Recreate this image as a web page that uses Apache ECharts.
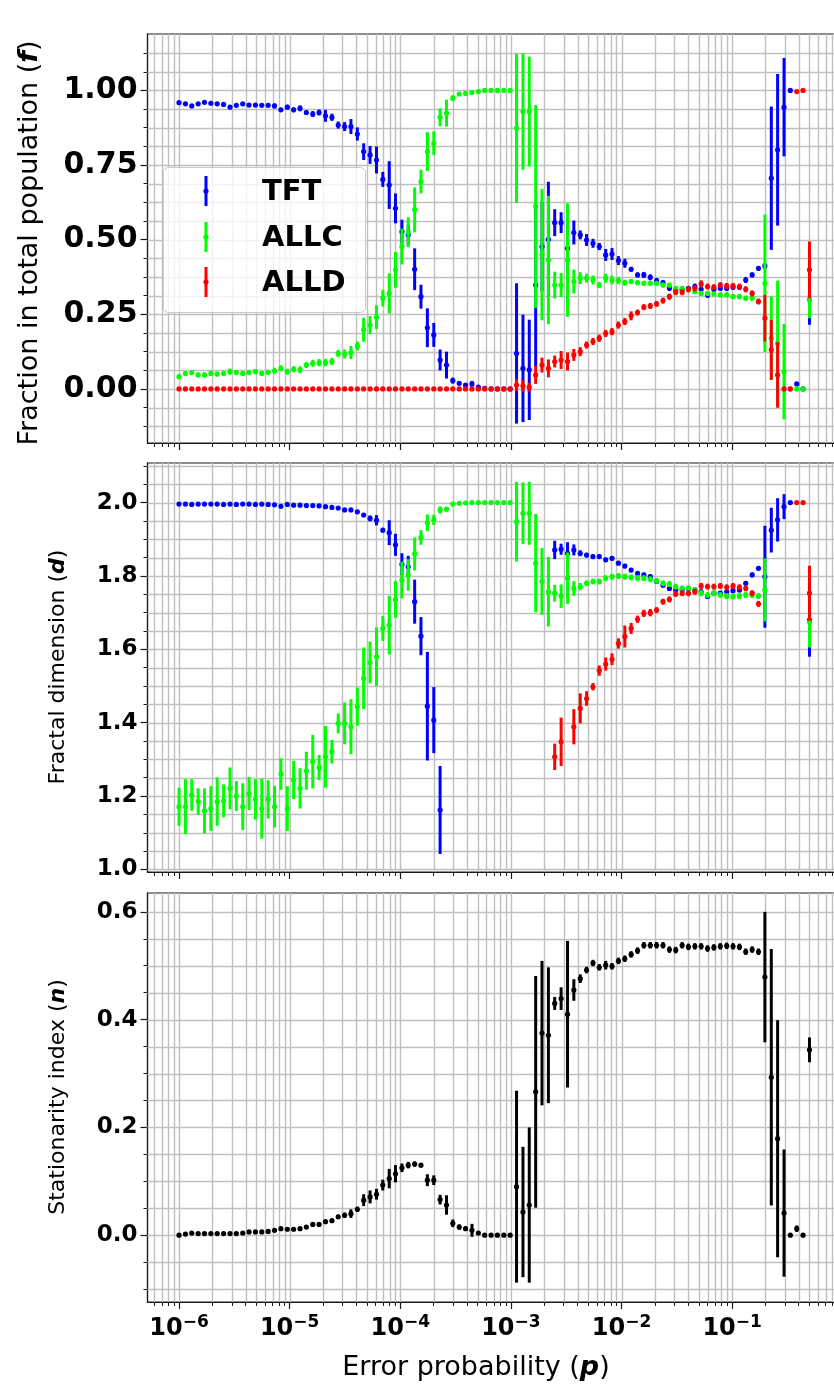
<!DOCTYPE html>
<html>
<head>
<meta charset="utf-8">
<script src="https://cdn.jsdelivr.net/npm/echarts@6/dist/echarts.min.js"></script>
<style>
  html, body { margin: 0; padding: 0; background: #fff; overflow: hidden; }
  #chart { width: 842px; height: 1390px; }
</style>
</head>
<body>
<div id="chart"></div>
<script>
// log10 of the error probability p for each simulated point
const logP = [
  -6.000,-5.942,-5.885,-5.827,-5.770,-5.712,-5.655,-5.597,-5.539,-5.482,
  -5.424,-5.367,-5.309,-5.252,-5.194,-5.137,-5.079,-5.021,-4.964,-4.906,
  -4.849,-4.791,-4.734,-4.676,-4.618,-4.561,-4.503,-4.446,-4.388,-4.331,
  -4.273,-4.215,-4.158,-4.100,-4.043,-3.985,-3.928,-3.870,-3.813,-3.755,
  -3.697,-3.640,-3.582,-3.525,-3.467,-3.410,-3.352,-3.294,-3.237,-3.179,
  -3.122,-3.064,-3.007,-2.949,-2.891,-2.834,-2.776,-2.719,-2.661,-2.604,
  -2.546,-2.488,-2.431,-2.373,-2.316,-2.258,-2.201,-2.143,-2.086,-2.028,
  -1.970,-1.913,-1.855,-1.798,-1.740,-1.683,-1.625,-1.567,-1.510,-1.452,
  -1.395,-1.337,-1.280,-1.222,-1.165,-1.107,-1.049,-0.992,-0.934,-0.877,
  -0.819,-0.762,-0.704,-0.646,-0.589,-0.531,-0.474,-0.416,-0.359,-0.301
];

const strategyNames = ['TFT', 'ALLC', 'ALLD'];
const strategyColors = ['#0000ff', '#00ff00', '#ff0000'];
const xTickExps = [-6, -5, -4, -3, -2, -1];

// Fraction in total population (f)
const tftF = [
  0.959,0.955,0.948,0.955,0.960,0.957,0.955,0.953,0.944,0.950,
  0.955,0.951,0.951,0.950,0.950,0.948,0.935,0.944,0.935,0.940,
  0.926,0.921,0.926,0.915,0.910,0.884,0.879,0.879,0.854,0.795,
  0.784,0.767,0.702,0.683,0.605,0.527,0.516,0.401,0.309,0.205,
  0.181,0.097,0.080,0.028,0.019,0.013,0.017,0.006,0.002,0.000,
  0.000,0.000,0.000,0.119,0.069,0.064,0.348,0.477,0.501,0.557,
  0.557,0.471,0.524,0.516,0.499,0.488,0.477,0.449,0.452,0.430,
  0.421,0.401,0.382,0.382,0.374,0.363,0.356,0.337,0.332,0.332,
  0.337,0.343,0.334,0.315,0.334,0.337,0.337,0.341,0.341,0.365,
  0.382,0.404,0.412,0.706,0.801,0.944,1.000,0.017,0.000,0.300
];
const tftFErr = [
  0.004,0.004,0.005,0.004,0.004,0.004,0.004,0.004,0.006,0.004,
  0.004,0.004,0.005,0.004,0.004,0.008,0.006,0.008,0.008,0.010,
  0.008,0.010,0.010,0.020,0.012,0.012,0.015,0.025,0.022,0.028,
  0.030,0.045,0.025,0.080,0.050,0.040,0.035,0.070,0.040,0.065,
  0.040,0.035,0.045,0.010,0.006,0.005,0.010,0.004,0.002,0.000,
  0.000,0.000,0.000,0.235,0.180,0.168,0.274,0.150,0.193,0.045,
  0.035,0.100,0.040,0.015,0.020,0.015,0.012,0.020,0.020,0.015,
  0.015,0.008,0.008,0.010,0.010,0.008,0.008,0.008,0.008,0.008,
  0.008,0.010,0.008,0.010,0.008,0.008,0.008,0.008,0.008,0.010,
  0.008,0.008,0.010,0.240,0.254,0.165,0.000,0.005,0.000,0.085
];
const allcF = [
  0.041,0.052,0.055,0.047,0.047,0.052,0.050,0.052,0.058,0.055,
  0.052,0.055,0.058,0.052,0.056,0.061,0.069,0.058,0.066,0.064,
  0.080,0.086,0.088,0.088,0.092,0.119,0.117,0.122,0.144,0.198,
  0.214,0.240,0.304,0.320,0.399,0.477,0.525,0.600,0.695,0.795,
  0.823,0.910,0.924,0.974,0.988,0.990,0.993,0.996,1.000,1.000,
  1.000,1.000,1.000,0.873,0.929,0.929,0.611,0.450,0.432,0.348,
  0.348,0.432,0.360,0.371,0.371,0.365,0.348,0.371,0.365,0.363,
  0.356,0.360,0.356,0.354,0.354,0.354,0.348,0.348,0.337,0.337,
  0.332,0.326,0.320,0.320,0.318,0.315,0.315,0.309,0.309,0.304,
  0.304,0.293,0.354,0.170,0.153,0.058,0.000,0.000,0.000,0.300
];
const allcFErr = [
  0.008,0.008,0.008,0.008,0.008,0.008,0.008,0.008,0.010,0.008,
  0.008,0.008,0.008,0.008,0.008,0.010,0.010,0.010,0.010,0.012,
  0.010,0.012,0.012,0.012,0.012,0.012,0.015,0.022,0.015,0.040,
  0.030,0.040,0.028,0.067,0.060,0.060,0.050,0.075,0.040,0.065,
  0.040,0.030,0.045,0.010,0.006,0.004,0.004,0.004,0.000,0.000,
  0.000,0.000,0.000,0.250,0.195,0.184,0.340,0.220,0.215,0.045,
  0.040,0.190,0.040,0.020,0.015,0.015,0.010,0.015,0.015,0.012,
  0.010,0.008,0.008,0.008,0.008,0.008,0.008,0.008,0.008,0.008,
  0.008,0.008,0.008,0.008,0.008,0.008,0.008,0.008,0.008,0.008,
  0.008,0.008,0.230,0.140,0.210,0.160,0.000,0.000,0.000,0.063
];
const alldF = [
  0,0,0,0,0,0,0,0,0,0,
  0,0,0,0,0,0,0,0,0,0,
  0,0,0,0,0,0,0,0,0,0,
  0,0,0,0,0,0,0,0,0,0,
  0,0,0,0,0,0,0,0,0,0,
  0,0,0,0.013,0.010,0.006,0.047,0.080,0.069,0.092,
  0.097,0.092,0.114,0.125,0.147,0.159,0.170,0.186,0.192,0.214,
  0.226,0.245,0.256,0.274,0.278,0.285,0.296,0.309,0.324,0.324,
  0.334,0.337,0.352,0.343,0.341,0.348,0.345,0.345,0.343,0.334,
  0.320,0.293,0.237,0.131,0.047,0.000,0.000,0.996,1.000,0.399
];
const alldFErr = [
  0,0,0,0,0,0,0,0,0,0,
  0,0,0,0,0,0,0,0,0,0,
  0,0,0,0,0,0,0,0,0,0,
  0,0,0,0,0,0,0,0,0,0,
  0,0,0,0,0,0,0,0,0,0,
  0,0,0,0.020,0.020,0.015,0.030,0.025,0.030,0.020,
  0.030,0.030,0.020,0.015,0.012,0.012,0.012,0.012,0.012,0.012,
  0.012,0.015,0.010,0.010,0.010,0.010,0.010,0.010,0.010,0.010,
  0.010,0.010,0.012,0.010,0.010,0.010,0.010,0.010,0.010,0.010,
  0.010,0.010,0.078,0.100,0.110,0,0,0,0,0.095
];

// Fractal dimension (d)
const tftD = [
  1.996,1.996,1.995,1.996,1.996,1.996,1.996,1.995,1.996,1.995,
  1.996,1.996,1.995,1.996,1.995,1.994,1.990,1.995,1.993,1.993,
  1.992,1.992,1.991,1.989,1.987,1.985,1.980,1.980,1.975,1.966,
  1.957,1.952,1.925,1.918,1.885,1.832,1.825,1.730,1.636,1.445,
  1.407,1.162,null,null,null,null,null,null,null,null,
  null,null,null,null,null,null,null,null,null,1.871,
  1.873,1.862,1.871,1.862,1.857,1.853,1.853,1.844,1.848,1.835,
  1.827,1.816,1.807,1.803,1.798,1.785,1.775,1.766,1.762,1.762,
  1.766,1.762,1.757,1.744,1.753,1.753,1.757,1.760,1.762,1.780,
  1.803,1.821,1.798,1.925,1.953,1.989,2.000,null,null,1.680
];
const tftDErr = [
  0.002,0.002,0.002,0.002,0.002,0.002,0.002,0.002,0.002,0.002,
  0.002,0.002,0.002,0.002,0.002,0.002,0.002,0.002,0.002,0.002,
  0.002,0.002,0.002,0.003,0.003,0.003,0.004,0.004,0.005,0.005,
  0.008,0.014,0.006,0.034,0.030,0.030,0.030,0.060,0.052,0.148,
  0.090,0.120,0,0,0,0,0,0,0,0,
  0,0,0,0,0,0,0,0,0,0.025,
  0.015,0.030,0.015,0.008,0.006,0.006,0.006,0.006,0.006,0.006,
  0.006,0.006,0.006,0.006,0.006,0.006,0.006,0.006,0.006,0.006,
  0.006,0.006,0.006,0.006,0.006,0.006,0.006,0.006,0.006,0.006,
  0.006,0.006,0.139,0.061,0.059,0.034,0,0,0,0.100
];
const allcD = [
  1.171,1.171,1.203,1.185,1.160,1.166,1.185,1.187,1.221,1.200,
  1.171,1.207,1.191,1.166,1.191,1.171,1.260,1.166,1.244,1.221,
  1.269,1.294,1.278,1.307,1.321,1.398,1.398,1.389,1.444,1.521,
  1.564,1.580,1.657,1.666,1.736,1.789,1.803,1.860,1.905,1.945,
  1.953,1.980,1.982,1.996,1.998,1.999,2.000,2.000,2.000,2.000,
  2.000,2.000,2.000,1.948,1.971,1.971,1.835,1.785,1.757,1.753,
  1.745,1.794,1.766,1.771,1.780,1.785,1.785,1.794,1.798,1.800,
  1.798,1.796,1.794,1.794,1.791,1.787,1.780,1.778,1.771,1.766,
  1.766,1.762,1.753,1.748,1.753,1.748,1.745,1.744,1.745,1.748,
  1.748,1.745,1.762,null,null,null,null,null,null,1.675
];
const allcDErr = [
  0.052,0.075,0.043,0.036,0.061,0.061,0.066,0.045,0.057,0.041,
  0.064,0.045,0.055,0.082,0.052,0.057,0.043,0.061,0.052,0.055,
  0.052,0.073,0.034,0.084,0.032,0.027,0.057,0.075,0.052,0.084,
  0.057,0.080,0.034,0.080,0.050,0.050,0.043,0.045,0.020,0.023,
  0.014,0.010,0.006,0.003,0.002,0,0,0,0,0,
  0,0,0,0.109,0.084,0.086,0.134,0.091,0.095,0.023,
  0.032,0.070,0.020,0.010,0.008,0.008,0.008,0.008,0.008,0.008,
  0.008,0.008,0.008,0.008,0.008,0.008,0.008,0.008,0.008,0.008,
  0.008,0.008,0.008,0.008,0.008,0.008,0.008,0.008,0.008,0.008,
  0.008,0.008,0.086,0,0,0,0,0,0,0.070
];
const alldD = [
  null,null,null,null,null,null,null,null,null,null,
  null,null,null,null,null,null,null,null,null,null,
  null,null,null,null,null,null,null,null,null,null,
  null,null,null,null,null,null,null,null,null,null,
  null,null,null,null,null,null,null,null,null,null,
  null,null,null,null,null,null,null,null,null,1.307,
  1.348,null,1.389,1.439,1.466,1.498,1.542,1.560,1.573,1.616,
  1.635,1.657,1.682,1.698,1.700,1.707,1.730,1.736,1.751,1.753,
  1.753,1.757,1.773,1.771,1.771,1.773,1.769,1.773,1.769,1.766,
  1.753,1.724,null,null,null,null,null,2.000,2.000,1.753
];
const alldDErr = [
  0,0,0,0,0,0,0,0,0,0,
  0,0,0,0,0,0,0,0,0,0,
  0,0,0,0,0,0,0,0,0,0,
  0,0,0,0,0,0,0,0,0,0,
  0,0,0,0,0,0,0,0,0,0,
  0,0,0,0,0,0,0,0,0,0.036,
  0.066,0,0.048,0.041,0.020,0.010,0.014,0.018,0.016,0.014,
  0.030,0.015,0.010,0.010,0.010,0.008,0.008,0.008,0.008,0.008,
  0.008,0.008,0.008,0.008,0.008,0.008,0.008,0.008,0.008,0.008,
  0.008,0.008,0,0,0,0,0,0,0,0.075
];

// Stationarity index (n)
const statN = [
  0.000,0.002,0.004,0.003,0.003,0.003,0.003,0.003,0.003,0.003,
  0.004,0.006,0.006,0.006,0.007,0.009,0.012,0.011,0.011,0.012,
  0.015,0.020,0.020,0.025,0.027,0.034,0.037,0.040,0.048,0.065,
  0.071,0.076,0.093,0.105,0.114,0.125,0.130,0.132,0.130,0.102,
  0.102,0.066,0.056,0.022,0.015,0.012,0.009,0.004,0.000,0.000,
  0.000,0.000,0.000,0.090,0.043,0.056,0.266,0.375,0.371,0.430,
  0.439,0.410,0.455,0.476,0.492,0.505,0.497,0.501,0.499,0.509,
  0.513,0.521,0.528,0.538,0.538,0.538,0.538,0.530,0.529,0.538,
  0.535,0.536,0.536,0.532,0.534,0.536,0.537,0.536,0.535,0.526,
  0.530,0.526,0.479,0.293,0.179,0.041,0.000,0.012,0.000,0.344
];
const statNErr = [
  0.002,0.002,0.002,0.002,0.002,0.002,0.002,0.002,0.002,0.002,
  0.002,0.002,0.002,0.002,0.002,0.002,0.002,0.002,0.002,0.002,
  0.002,0.002,0.002,0.003,0.003,0.004,0.005,0.008,0.005,0.011,
  0.012,0.010,0.010,0.018,0.016,0.008,0.006,0.005,0.004,0.011,
  0.009,0.009,0.018,0.007,0.005,0.004,0.012,0.003,0,0,
  0,0,0,0.178,0.121,0.144,0.215,0.134,0.126,0.012,
  0.021,0.136,0.020,0.008,0.006,0.006,0.006,0.008,0.006,0.006,
  0.006,0.006,0.006,0.006,0.006,0.006,0.006,0.006,0.006,0.006,
  0.006,0.006,0.006,0.006,0.006,0.006,0.006,0.006,0.006,0.006,
  0.006,0.006,0.121,0.238,0.220,0.118,0,0.006,0,0.023
];

// y tick labels of each panel
const yTicksF = [0, 0.25, 0.5, 0.75, 1.0];
const yTicksD = [1.0, 1.2, 1.4, 1.6, 1.8, 2.0];
const yTicksN = [0, 0.2, 0.4, 0.6];

const FONT = "'DejaVu Sans', sans-serif";
const GRID_COLOR = '#bfbfbf';
const SPINE = '#1a1a1a';
const X_MIN = -6.285, X_MAX = -0.016;

const panels = [
  { top: 34,  yMin: -0.181, yMax: 1.189, step: 0.0625, gridFrom: -0.125, gridTo: 1.125,
    major: yTicksF, digits: 2, labelSize: 30 },
  { top: 463, yMin: 0.993,  yMax: 2.108, step: 0.05,   gridFrom: 1.0,    gridTo: 2.1,
    major: yTicksD, digits: 1, labelSize: 23 },
  { top: 893, yMin: -0.124, yMax: 0.635, step: 0.05,   gridFrom: -0.1,   gridTo: 0.6,
    major: yTicksN, digits: 1, labelSize: 23 }
];
const PANEL_H = 409;

// log-axis grid positions: decades and 2..9 subdivisions
const xGridAll = [];
for (let n = -7; n <= 0; n++) {
  for (let m = 1; m <= 9; m++) {
    const v = n + Math.log10(m);
    if (v > X_MIN && v < X_MAX) xGridAll.push(+v.toFixed(5));
  }
}
const xMinor = xGridAll.filter(v => !xTickExps.some(t => Math.abs(t - v) < 1e-6));

function linearStops(from, to, step) {
  const out = [];
  for (let v = from; v <= to + 1e-9; v += step) out.push(Math.round(v * 1e5) / 1e5);
  return out;
}

const grids = [], xAxes = [], yAxes = [], series = [];

panels.forEach((p, i) => {
  grids.push({
    left: 147.5, right: 1, top: p.top, height: PANEL_H,
    show: true, borderColor: SPINE, borderWidth: 1.2, backgroundColor: 'transparent'
  });
  const isBottom = i === panels.length - 1;
  // main x axis (decade ticks)
  xAxes.push({
    type: 'value', gridIndex: i, min: X_MIN, max: X_MAX, position: 'bottom',
    axisLine: { show: true, onZero: false, lineStyle: { color: SPINE, width: 1.2 } },
    axisTick: { show: true, customValues: xTickExps, length: 7, lineStyle: { color: SPINE, width: 1.2 } },
    axisLabel: {
      show: isBottom, customValues: xTickExps, margin: 12,
      formatter: v => '{b|10}{s|' + (v < 0 ? '\u2212' : '') + Math.abs(v) + '}',
      rich: {
        b: { fontSize: 24, fontWeight: 'bold', fontFamily: FONT, color: '#000', lineHeight: 30 },
        s: { fontSize: 17, fontWeight: 'bold', fontFamily: FONT, color: '#000', lineHeight: 16, verticalAlign: 'top' }
      }
    },
    splitLine: { show: false }
  });
  // minor x ticks
  xAxes.push({
    type: 'value', gridIndex: i, min: X_MIN, max: X_MAX, position: 'bottom',
    axisLine: { show: false, onZero: false },
    axisTick: { show: true, customValues: xMinor, length: 4, lineStyle: { color: SPINE, width: 1 } },
    axisLabel: { show: false }, splitLine: { show: false }
  });
  const yGridAll = linearStops(p.gridFrom, p.gridTo, p.step);
  const yMinor = yGridAll.filter(v => !p.major.some(t => Math.abs(t - v) < 1e-6));
  yAxes.push({
    type: 'value', gridIndex: i, min: p.yMin, max: p.yMax, position: 'left',
    axisLine: { show: true, onZero: false, lineStyle: { color: SPINE, width: 1.2 } },
    axisTick: { show: true, customValues: p.major, length: 7, lineStyle: { color: SPINE, width: 1.2 } },
    axisLabel: {
      customValues: p.major, margin: 10,
      formatter: v => Number(v).toFixed(p.digits),
      fontSize: p.labelSize, fontWeight: 'bold', fontFamily: FONT, color: '#000'
    },
    splitLine: { show: false }
  });
  yAxes.push({
    type: 'value', gridIndex: i, min: p.yMin, max: p.yMax, position: 'left',
    axisLine: { show: false, onZero: false },
    axisTick: { show: true, customValues: yMinor, length: 4, lineStyle: { color: SPINE, width: 1 } },
    axisLabel: { show: false }, splitLine: { show: false }
  });

  // grid lines (major and minor, same light grey)
  series.push({
    type: 'custom', xAxisIndex: 2 * i, yAxisIndex: 2 * i, silent: true, z: 1,
    data: xGridAll.map(v => [v, p.yMin]),
    renderItem: (params, api) => {
      const px = Math.round(api.coord([api.value(0), p.yMin])[0]) + 0.5;
      const cs = params.coordSys;
      return { type: 'line', shape: { x1: px, y1: cs.y, x2: px, y2: cs.y + cs.height },
               style: { stroke: GRID_COLOR, lineWidth: 1.4 } };
    }
  });
  series.push({
    type: 'custom', xAxisIndex: 2 * i, yAxisIndex: 2 * i, silent: true, z: 1,
    data: yGridAll.map(v => [X_MIN, v]),
    renderItem: (params, api) => {
      const py = Math.round(api.coord([X_MIN, api.value(1)])[1]) + 0.5;
      const cs = params.coordSys;
      return { type: 'line', shape: { x1: cs.x, y1: py, x2: cs.x + cs.width, y2: py },
               style: { stroke: GRID_COLOR, lineWidth: 1.4 } };
    }
  });
});

function errorBars(panel, vals, errs, color, z) {
  const data = [];
  for (let k = 0; k < logP.length; k++) {
    if (vals[k] !== null) data.push([logP[k], vals[k], errs[k]]);
  }
  return {
    type: 'custom', xAxisIndex: 2 * panel, yAxisIndex: 2 * panel, silent: true, z, clip: true,
    dimensions: ['p', 'v', 'e'], encode: { x: 0, y: 1 },
    data,
    renderItem: (params, api) => {
      const x = api.value(0), y = api.value(1), e = api.value(2);
      const c = api.coord([x, y]);
      const hi = api.coord([x, y + e]);
      const lo = api.coord([x, y - e]);
      return {
        type: 'group',
        children: [
          { type: 'line', shape: { x1: c[0], y1: hi[1], x2: c[0], y2: lo[1] },
            style: { stroke: color, lineWidth: 3 } },
          { type: 'circle', shape: { cx: c[0], cy: c[1], r: 2.6 }, style: { fill: color } }
        ]
      };
    }
  };
}

series.push(errorBars(0, tftF, tftFErr, strategyColors[0], 3));
series.push(errorBars(0, allcF, allcFErr, strategyColors[1], 4));
series.push(errorBars(0, alldF, alldFErr, strategyColors[2], 5));
series.push(errorBars(1, tftD, tftDErr, strategyColors[0], 3));
series.push(errorBars(1, allcD, allcDErr, strategyColors[1], 4));
series.push(errorBars(1, alldD, alldDErr, strategyColors[2], 5));
series.push(errorBars(2, statN, statNErr, '#000000', 3));

// axis titles and legend
const titleRich = size => ({
  a: { fontSize: size, fontFamily: FONT, color: '#000' },
  b: { fontSize: size, fontFamily: FONT, color: '#000', fontWeight: 'bold', fontStyle: 'italic' }
});
const graphics = [
  { type: 'text', x: 30, y: 243, rotation: Math.PI / 2, z: 20,
    style: { text: '{a|Fraction in total population (}{b|f}{a|)}', rich: titleRich(27), align: 'center', verticalAlign: 'middle' } },
  { type: 'text', x: 58, y: 667, rotation: Math.PI / 2, z: 20,
    style: { text: '{a|Fractal dimension (}{b|d}{a|)}', rich: titleRich(22), align: 'center', verticalAlign: 'middle' } },
  { type: 'text', x: 58, y: 1097, rotation: Math.PI / 2, z: 20,
    style: { text: '{a|Stationarity index (}{b|n}{a|)}', rich: titleRich(22), align: 'center', verticalAlign: 'middle' } },
  { type: 'text', x: 476, y: 1368, z: 20,
    style: { text: '{a|Error probability (}{b|p}{a|)}', rich: titleRich(27), align: 'center', verticalAlign: 'middle' } },
  { type: 'rect', z: 20, shape: { x: 163.5, y: 167.5, width: 202, height: 145, r: 5 },
    style: { fill: 'rgba(255,255,255,0.8)', stroke: '#cccccc', lineWidth: 1 } }
];
const legendRows = [191, 237, 282];
strategyNames.forEach((name, i) => {
  const cy = legendRows[i];
  graphics.push({ type: 'line', z: 21, shape: { x1: 206, y1: cy - 15, x2: 206, y2: cy + 15 },
    style: { stroke: strategyColors[i], lineWidth: 3 } });
  graphics.push({ type: 'circle', z: 21, shape: { cx: 206, cy: cy, r: 2.6 },
    style: { fill: strategyColors[i] } });
  graphics.push({ type: 'text', z: 21, x: 262, y: cy + 1,
    style: { text: name, fontSize: 29, fontWeight: 'bold', fontFamily: FONT, fill: '#000',
             align: 'left', verticalAlign: 'middle' } });
});

const chart = echarts.init(document.getElementById('chart'), null, { renderer: 'canvas' });
chart.setOption({
  animation: false,
  backgroundColor: '#ffffff',
  grid: grids,
  xAxis: xAxes,
  yAxis: yAxes,
  series: series,
  graphic: graphics
});
</script>
</body>
</html>
